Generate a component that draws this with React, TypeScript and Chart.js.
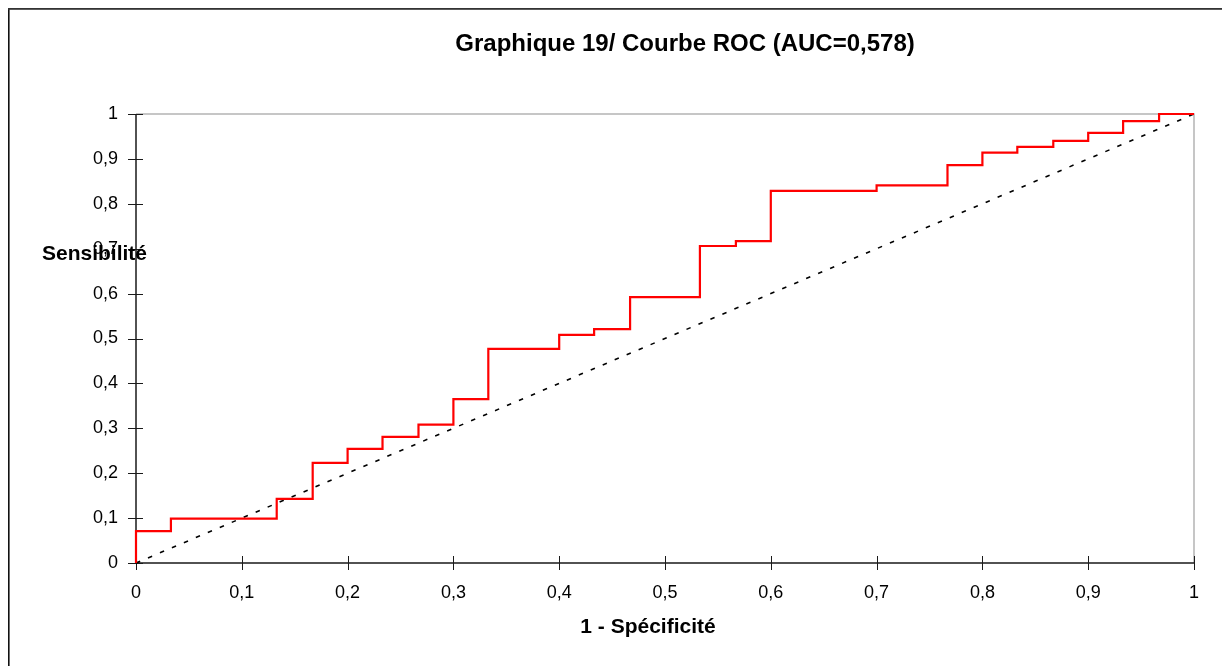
import React, { useEffect, useRef } from "react";
import { Chart, registerables } from "chart.js";

Chart.register(...registerables);

// ROC curve vertices (1 - specificity, sensitivity); step happens at each x
const rocX = [0, 0, 0.033, 0.133, 0.167, 0.2, 0.233, 0.267, 0.3, 0.333, 0.4, 0.433, 0.467, 0.533, 0.567, 0.6, 0.7, 0.767, 0.8, 0.833, 0.867, 0.9, 0.933, 0.967, 1];
const rocY = [0, 0.071, 0.099, 0.143, 0.223, 0.254, 0.281, 0.308, 0.365, 0.477, 0.508, 0.521, 0.592, 0.706, 0.717, 0.829, 0.841, 0.886, 0.914, 0.927, 0.94, 0.958, 0.984, 1, 1];

// Reference diagonal
const diagX = [0, 1];
const diagY = [0, 1];

const tickValues = [0, 0.1, 0.2, 0.3, 0.4, 0.5, 0.6, 0.7, 0.8, 0.9, 1];
const tickLabels = ["0", "0,1", "0,2", "0,3", "0,4", "0,5", "0,6", "0,7", "0,8", "0,9", "1"];

const titleText = "Graphique 19/ Courbe ROC (AUC=0,578)";
const xTitleText = "1 - Spécificité";
const yTitleText = "Sensibilité";

const FONT = "'Liberation Sans', Arial, Helvetica, sans-serif";

const framePlugin = {
  id: "framePlugin",
  beforeDatasetsDraw(chart: any) {
    const { ctx, chartArea } = chart;
    const { left, right, top, bottom } = chartArea;
    const xs = chart.scales.x;
    const ys = chart.scales.y;
    ctx.save();
    // light grey top & right border
    ctx.strokeStyle = "#b4b4b4";
    ctx.lineWidth = 1.5;
    ctx.beginPath();
    ctx.moveTo(left, top);
    ctx.lineTo(right, top);
    ctx.lineTo(right, bottom);
    ctx.stroke();
    // axes
    ctx.strokeStyle = "#1a1a1a";
    ctx.lineWidth = 1.5;
    ctx.beginPath();
    ctx.moveTo(left, top);
    ctx.lineTo(left, bottom);
    ctx.lineTo(right, bottom);
    ctx.stroke();
    // crossing tick marks
    ctx.lineWidth = 1;
    ctx.strokeStyle = "#1a1a1a";
    ctx.beginPath();
    tickValues.forEach((v) => {
      const py = Math.round(ys.getPixelForValue(v)) + 0.5;
      ctx.moveTo(left - 8, py);
      ctx.lineTo(left + 7, py);
      const px = Math.round(xs.getPixelForValue(v)) + 0.5;
      ctx.moveTo(px, bottom - 7);
      ctx.lineTo(px, bottom + 7);
    });
    ctx.stroke();
    ctx.restore();
  },
  afterDraw(chart: any) {
    const { ctx } = chart;
    ctx.save();
    // outer frame
    ctx.fillStyle = "#111";
    ctx.fillRect(8, 8, 1.6, chart.height);
    ctx.fillStyle = "#333";
    ctx.fillRect(8, 8, chart.width, 1.8);
    // texts
    ctx.fillStyle = "#000";
    ctx.textBaseline = "alphabetic";
    ctx.textAlign = "center";
    ctx.font = `bold 24px ${FONT}`;
    ctx.fillText(titleText, 685, 51);
    ctx.font = `bold 21px ${FONT}`;
    ctx.fillText(xTitleText, 648, 633);
    ctx.textAlign = "left";
    ctx.fillText(yTitleText, 42, 260);
    ctx.restore();
  },
};

export default function App() {
  const canvasRef = useRef<HTMLCanvasElement | null>(null);

  useEffect(() => {
    const canvas = canvasRef.current;
    if (!canvas) return;
    const setTicks = (scale: any) => {
      scale.ticks = tickValues.map((v) => ({ value: v }));
    };
    const chart = new Chart(canvas, {
      type: "line",
      data: {
        datasets: [
          {
            label: "ROC",
            data: rocX.map((x, i) => ({ x, y: rocY[i] })),
            borderColor: "#ff0000",
            borderWidth: 2.2,
            pointRadius: 0,
            stepped: "before",
            fill: false,
            clip: false,
            order: 0,
          },
          {
            label: "Diagonale",
            data: diagX.map((x, i) => ({ x, y: diagY[i] })),
            borderColor: "#000000",
            borderWidth: 1.6,
            borderDash: [4.5, 8.5],
            pointRadius: 0,
            fill: false,
            clip: false,
            order: 1,
          },
        ],
      },
      options: {
        responsive: false,
        animation: false,
        events: [],
        layout: { padding: { top: 114, right: 28, left: 0, bottom: 0 } },
        plugins: {
          legend: { display: false },
          title: { display: false },
          tooltip: { enabled: false },
        },
        scales: {
          x: {
            type: "linear",
            min: 0,
            max: 1,
            afterBuildTicks: setTicks,
            afterFit: (scale: any) => {
              scale.height = 103;
            },
            grid: { display: false, drawTicks: false },
            border: { display: false },
            ticks: {
              autoSkip: false,
              maxRotation: 0,
              padding: 19,
              color: "#000",
              font: { family: FONT, size: 18 },
              callback: (_v: any, i: number) => tickLabels[i],
            },
          },
          y: {
            type: "linear",
            min: 0,
            max: 1,
            afterBuildTicks: setTicks,
            afterFit: (scale: any) => {
              scale.width = 136;
            },
            grid: { display: false, drawTicks: false },
            border: { display: false },
            ticks: {
              autoSkip: false,
              padding: 18,
              color: "#000",
              font: { family: FONT, size: 18 },
              callback: (_v: any, i: number) => tickLabels[i],
            },
          },
        },
      },
      plugins: [framePlugin],
    });
    return () => chart.destroy();
  }, []);

  return (
    <div style={{ position: "absolute", left: 0, top: 0, width: 1222, height: 666, background: "#fff" }}>
      <canvas ref={canvasRef} width={1222} height={666} style={{ display: "block", width: 1222, height: 666 }} />
    </div>
  );
}
